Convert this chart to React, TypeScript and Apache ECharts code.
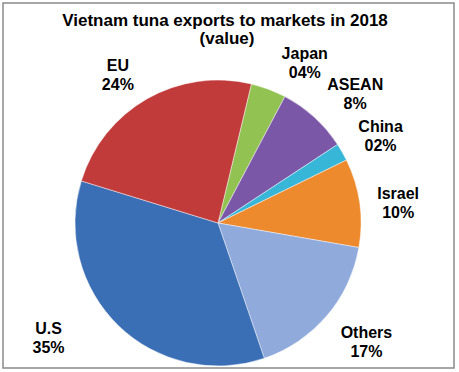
import React, { useEffect, useRef } from "react";
import * as echarts from "echarts";

const TITLE_LINE1 = "Vietnam tuna exports to markets in 2018";
const TITLE_LINE2 = "(value)";
const categories = ["Japan", "ASEAN", "China", "Israel", "Others", "U.S", "EU"];
const shares = [4, 8, 2, 10, 17, 35, 24];
const shareLabels = ["04%", "8%", "02%", "10%", "17%", "35%", "24%"];

const COLORS = ["#92C352", "#7B57A8", "#37B6D8", "#EE8A2E", "#8FAADB", "#3A6EB5", "#C23B3B"];
// small label nudges (px) relative to the radial placement
const NUDGE: [number, number][] = [
  [21, 14],
  [12, 9],
  [1, 5],
  [-4, 6],
  [7, -2],
  [-40, -19],
  [-8, 14],
];

const FONT = "'Liberation Sans', Arial, sans-serif";

export default function App() {
  const ref = useRef<HTMLDivElement>(null);
  useEffect(() => {
    if (!ref.current) return;
    const chart = echarts.init(ref.current, undefined, { renderer: "svg" });
    const data = categories.map((c, i) => ({
      name: c,
      value: shares[i],
      itemStyle: { color: COLORS[i] },
    }));
    const labelData = categories.map((c, i) => ({
      name: c,
      value: shares[i],
      label: { formatter: c + "\n" + shareLabels[i] },
    }));
    const titleStyle = {
      fontFamily: FONT,
      fontWeight: "bold",
      fontSize: 17,
      color: "#000",
    };
    chart.setOption({
      animation: false,
      backgroundColor: "#ffffff",
      title: [
        { text: TITLE_LINE1, left: 220, top: 7, textAlign: "center", textStyle: titleStyle },
        { text: TITLE_LINE2, left: 222, top: 25, textAlign: "center", textStyle: titleStyle },
      ],
      graphic: [
        {
          type: "rect",
          shape: { x: 3, y: 3, width: 451, height: 365 },
          style: { fill: "none", stroke: "#8a8a8a", lineWidth: 1.5 },
          silent: true,
        },
      ],
      series: [
        {
          type: "pie",
          center: [218, 223],
          radius: 143,
          startAngle: 76.5,
          clockwise: true,
          label: { show: false },
          labelLine: { show: false },
          itemStyle: { borderColor: "rgba(255,255,255,0.45)", borderWidth: 1 },
          emphasis: { disabled: true },
          data,
        },
        {
          type: "pie",
          center: [218, 223],
          radius: [0, 366],
          startAngle: 76.5,
          clockwise: true,
          silent: true,
          z: 5,
          itemStyle: { color: "rgba(0,0,0,0)" },
          label: {
            show: true,
            position: "inside",
            rotate: 0,
            fontFamily: FONT,
            fontWeight: "bold",
            fontSize: 16,
            lineHeight: 19,
            color: "#000",
            align: "center",
          },
          labelLine: { show: false },
          labelLayout: (p: any) => ({ dx: NUDGE[p.dataIndex][0], dy: NUDGE[p.dataIndex][1] }),
          emphasis: { disabled: true },
          data: labelData,
        },
      ],
    });
    return () => chart.dispose();
  }, []);
  return (
    <div
      ref={ref}
      style={{ position: "absolute", left: 0, top: 0, width: 459, height: 372 }}
    />
  );
}
